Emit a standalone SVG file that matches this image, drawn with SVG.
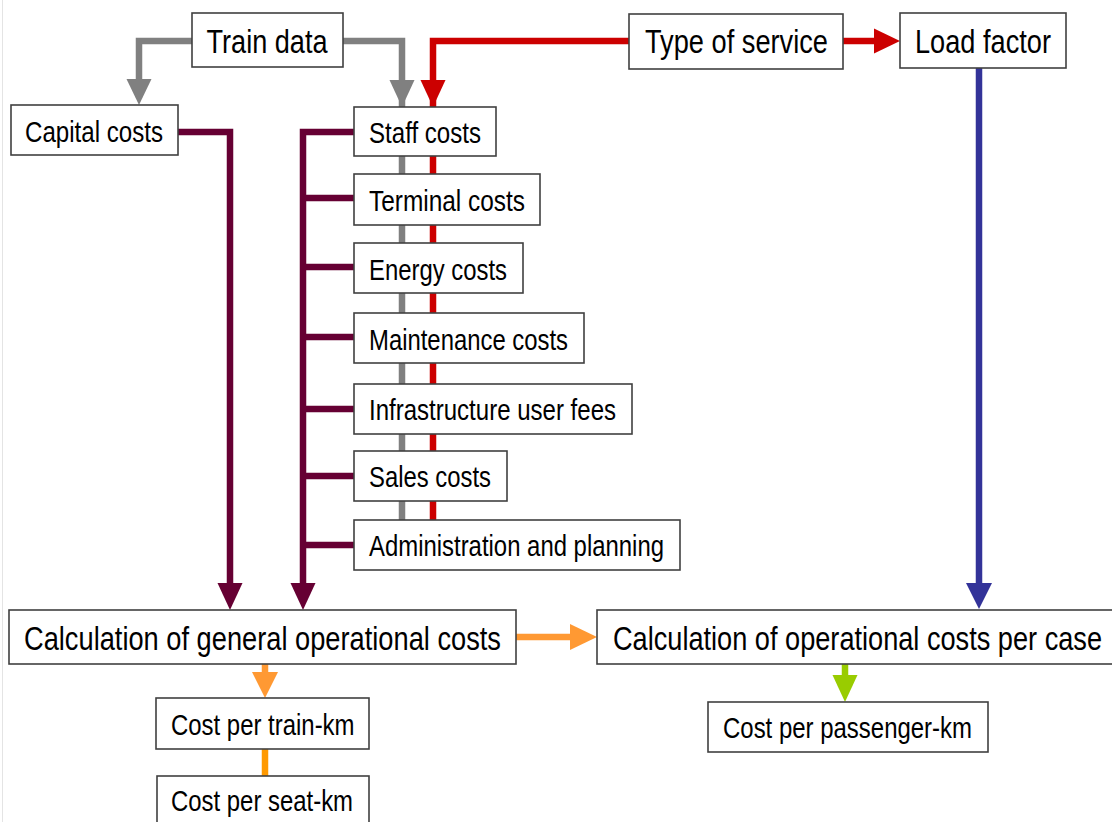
<svg xmlns="http://www.w3.org/2000/svg" width="1112" height="822" viewBox="0 0 1112 822">
  <style>
    .box { fill: #ffffff; stroke: #404040; stroke-width: 1.6; }
    .t { font-family: "Liberation Sans Narrow", "Liberation Sans", Arial, sans-serif; fill: #000000; }
    .big { font-size: 33px; }
    .mid { font-size: 34px; }
    .sm { font-size: 29px; }
    .ln { fill: none; stroke-width: 6.5; stroke-linejoin: miter; stroke-linecap: butt; }
    .gray { stroke: #808080; }
    .red { stroke: #cc0000; }
    .pur { stroke: #660033; }
    .blue { stroke: #333399; }
    .org { stroke: #ff9933; }
    .org2 { stroke: #ff9900; }
    .grn { stroke: #99cc00; }
  </style>
  <rect x="0" y="0" width="1112" height="822" fill="#ffffff"/>
  <rect x="2" y="0" width="1" height="822" fill="#e4e4e4"/>

  <g id="connectors">
    <!-- gray from Train data -->
    <path class="ln gray" d="M192,41 H139 V80"/>
    <polygon fill="#808080" points="126.5,79 151.5,79 139,105"/>
    <path class="ln gray" d="M343,41 H402 V520"/>
    <polygon fill="#808080" points="389.5,80 414.5,80 402,107"/>
    <!-- red from Type of service -->
    <path class="ln red" d="M629,41 H433 V520"/>
    <polygon fill="#cc0000" points="420.5,80 445.5,80 433,107"/>
    <path class="ln red" d="M843,41 H875"/>
    <polygon fill="#cc0000" points="874,28.5 874,53.5 900,41"/>
    <!-- purple -->
    <path class="ln pur" d="M178,132 H230 V584"/>
    <polygon fill="#660033" points="217.5,583 242.5,583 230,610"/>
    <path class="ln pur" d="M354,132 H303 V584"/>
    <polygon fill="#660033" points="290.5,583 315.5,583 303,610"/>
    <path class="ln pur" d="M303,198 H354 M303,267 H354 M303,337 H354 M303,409 H354 M303,476 H354 M303,545 H354"/>
    <!-- blue -->
    <path class="ln blue" d="M979,68 V584"/>
    <polygon fill="#333399" points="966,583 992,583 979,609"/>
    <!-- orange -->
    <path class="ln org" d="M516,637 H571"/>
    <polygon fill="#ff9933" points="570,624 570,650 597,637"/>
    <path class="ln org" d="M265,664 V673"/>
    <polygon fill="#ff9933" points="252,672 278,672 265,698"/>
    <path class="ln org2" d="M265,749 V776"/>
    <!-- green -->
    <path class="ln grn" d="M845,664 V676"/>
    <polygon fill="#99cc00" points="832.5,675 857.5,675 845,702"/>
  </g>

  <g id="train-data">
    <rect class="box" x="192" y="13" width="151" height="54"/>
    <text class="t big" x="206.5" y="53" textLength="121" lengthAdjust="spacingAndGlyphs">Train data</text>
  </g>
  <g id="type-of-service">
    <rect class="box" x="629" y="14" width="214" height="55"/>
    <text class="t big" x="645" y="53" textLength="183" lengthAdjust="spacingAndGlyphs">Type of service</text>
  </g>
  <g id="load-factor">
    <rect class="box" x="900" y="13" width="166" height="55"/>
    <text class="t big" x="915" y="53" textLength="136" lengthAdjust="spacingAndGlyphs">Load factor</text>
  </g>
  <g id="capital-costs">
    <rect class="box" x="11" y="105" width="167" height="50"/>
    <text class="t sm" x="25" y="141.5" textLength="138" lengthAdjust="spacingAndGlyphs">Capital costs</text>
  </g>
  <g id="staff-costs">
    <rect class="box" x="354" y="107" width="142" height="49"/>
    <text class="t sm" x="369" y="142.5" textLength="112" lengthAdjust="spacingAndGlyphs">Staff costs</text>
  </g>
  <g id="terminal-costs">
    <rect class="box" x="354" y="174" width="186" height="51"/>
    <text class="t sm" x="369" y="210.5" textLength="156" lengthAdjust="spacingAndGlyphs">Terminal costs</text>
  </g>
  <g id="energy-costs">
    <rect class="box" x="354" y="243" width="169" height="50"/>
    <text class="t sm" x="369" y="279.5" textLength="138" lengthAdjust="spacingAndGlyphs">Energy costs</text>
  </g>
  <g id="maintenance-costs">
    <rect class="box" x="354" y="313" width="230" height="50"/>
    <text class="t sm" x="369" y="349.5" textLength="199" lengthAdjust="spacingAndGlyphs">Maintenance costs</text>
  </g>
  <g id="infrastructure-user-fees">
    <rect class="box" x="354" y="384" width="278" height="50"/>
    <text class="t sm" x="369" y="419.5" textLength="247" lengthAdjust="spacingAndGlyphs">Infrastructure user fees</text>
  </g>
  <g id="sales-costs">
    <rect class="box" x="354" y="451" width="153" height="50"/>
    <text class="t sm" x="369" y="486.5" textLength="122" lengthAdjust="spacingAndGlyphs">Sales costs</text>
  </g>
  <g id="administration-and-planning">
    <rect class="box" x="354" y="520" width="326" height="50"/>
    <text class="t sm" x="369" y="556" textLength="295" lengthAdjust="spacingAndGlyphs">Administration and planning</text>
  </g>
  <g id="calc-general">
    <rect class="box" x="9" y="610" width="507" height="54"/>
    <text class="t mid" x="24" y="650" textLength="477" lengthAdjust="spacingAndGlyphs">Calculation of general operational costs</text>
  </g>
  <g id="calc-per-case">
    <rect class="box" x="597" y="610" width="525" height="54"/>
    <text class="t mid" x="613" y="650" textLength="489" lengthAdjust="spacingAndGlyphs">Calculation of operational costs per case</text>
  </g>
  <g id="cost-per-train-km">
    <rect class="box" x="156" y="698" width="213" height="51"/>
    <text class="t sm" x="171" y="735" textLength="183.5" lengthAdjust="spacingAndGlyphs">Cost per train-km</text>
  </g>
  <g id="cost-per-seat-km">
    <rect class="box" x="157" y="776" width="212" height="60"/>
    <text class="t sm" x="171" y="811" textLength="182" lengthAdjust="spacingAndGlyphs">Cost per seat-km</text>
  </g>
  <g id="cost-per-passenger-km">
    <rect class="box" x="708" y="702" width="280" height="50"/>
    <text class="t sm" x="723" y="738" textLength="249" lengthAdjust="spacingAndGlyphs">Cost per passenger-km</text>
  </g>
</svg>
